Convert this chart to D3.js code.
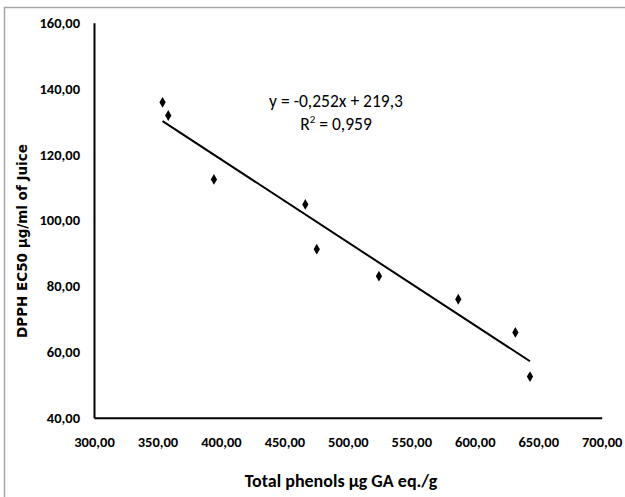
<!DOCTYPE html>
<html>
<head>
<meta charset="utf-8">
<script src="https://cdn.jsdelivr.net/npm/d3@7"></script>
<style>
  body { margin: 0; background: #fff; }
  text { font-family: Carlito, "Liberation Sans Narrow", "DejaVu Sans Condensed", sans-serif; fill: #000; }
  .tick-label { font-size: 14.5px; font-weight: bold; }
  .axis-title { font-size: 18px; font-weight: bold; }
  .y-title { font-family: "DejaVu Sans", Verdana, sans-serif; font-size: 13.5px; font-weight: bold; }
  .eq { font-size: 17.5px; }
</style>
</head>
<body>
<svg id="chart" width="625" height="497"></svg>
<script>
const phenols = [354, 358.5, 394.5, 466.5, 475.5, 524.5, 587, 632, 643.5];
const ec50 = [135.8, 131.8, 112.4, 104.8, 91.2, 83.0, 76.0, 65.9, 52.5];
const xTicks = [300, 350, 400, 450, 500, 550, 600, 650, 700];
const yTicks = [40, 60, 80, 100, 120, 140, 160];
const slope = -0.252;
const intercept = 219.3;
const equationLabel = "y = -0,252x + 219,3";
const r2Label = "0,959";

const margin = { top: 22.7, right: 23.3, bottom: 79.3, left: 94 };
const fmt = (v) => d3.format(".2f")(v).replace(".", ",");

const svg = d3.select("#chart");
const width = +svg.attr("width") - margin.left - margin.right;
const height = +svg.attr("height") - margin.top - margin.bottom;

// outer frame
svg.append("rect")
  .attr("x", 4.5).attr("y", 7.5)
  .attr("width", 640).attr("height", 520)
  .attr("fill", "none")
  .attr("stroke", "#a6a6a6")
  .attr("stroke-width", 1.5);

const g = svg.append("g").attr("transform", `translate(${margin.left},${margin.top})`);

const xScale = d3.scaleLinear().domain([300, 700]).range([0, width]);
const yScale = d3.scaleLinear().domain([40, 160]).range([height, 0]);

// axes
const xAxis = g.append("g")
  .attr("transform", `translate(0,${height})`)
  .call(d3.axisBottom(xScale).tickValues(xTicks).tickFormat(fmt).tickSize(0).tickPadding(19));
const yAxis = g.append("g")
  .call(d3.axisLeft(yScale).tickValues(yTicks).tickFormat(fmt).tickSize(0).tickPadding(14));

[xAxis, yAxis].forEach((a) => {
  a.select(".domain").attr("stroke", "#000").attr("stroke-width", 2);
  a.selectAll("text").attr("class", "tick-label").attr("font-family", null).attr("font-size", null).attr("fill", "#000");
});

// trend line
const xExtent = d3.extent(phenols);
g.append("line")
  .attr("x1", xScale(xExtent[0])).attr("y1", yScale(slope * xExtent[0] + intercept))
  .attr("x2", xScale(xExtent[1])).attr("y2", yScale(slope * xExtent[1] + intercept))
  .attr("stroke", "#000")
  .attr("stroke-width", 2);

// points
const points = phenols.map((x, i) => ({ x, y: ec50[i] }));
g.selectAll(".pt")
  .data(points)
  .enter()
  .append("path")
  .attr("class", "pt")
  .attr("d", d3.symbol().type(d3.symbolDiamond).size(34))
  .attr("transform", (d) => `translate(${xScale(d.x)},${yScale(d.y)})`)
  .attr("fill", "#000");

// equation
const eq = svg.append("text")
  .attr("class", "eq")
  .attr("x", 336).attr("y", 107)
  .attr("text-anchor", "middle")
  .text(equationLabel);
const r2 = svg.append("text")
  .attr("class", "eq")
  .attr("x", 336).attr("y", 130)
  .attr("text-anchor", "middle");
r2.append("tspan").text("R");
r2.append("tspan").attr("dy", -7).attr("font-size", 11).text("2");
r2.append("tspan").attr("dy", 7).text(" = " + r2Label);

// axis titles
svg.append("text")
  .attr("class", "axis-title")
  .attr("x", 341).attr("y", 487)
  .attr("text-anchor", "middle")
  .text("Total phenols µg GA eq./g");

svg.append("text")
  .attr("class", "y-title")
  .attr("transform", "translate(27,241) rotate(-90)")
  .attr("text-anchor", "middle")
  .text("DPPH EC50 µg/ml of Juice");
</script>
</body>
</html>
